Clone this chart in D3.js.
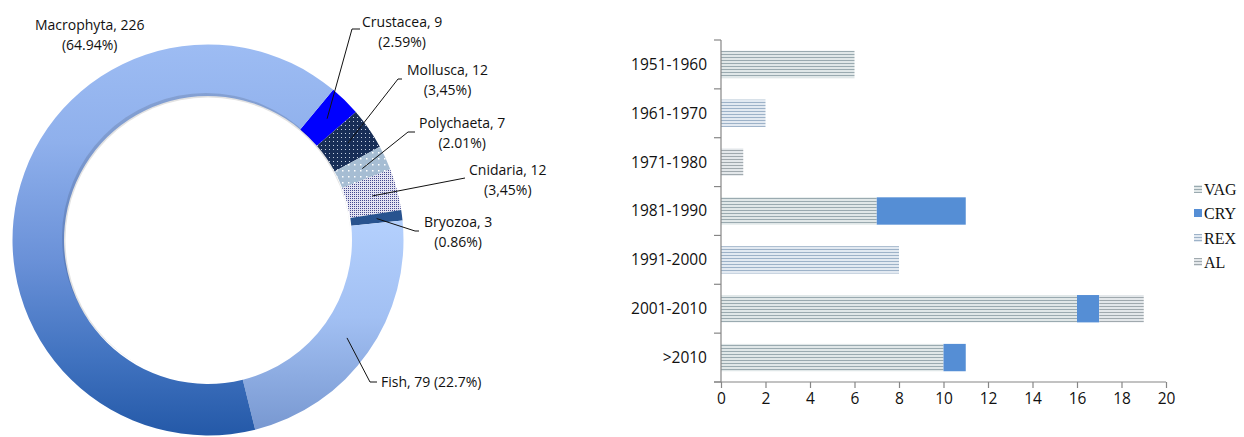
<!DOCTYPE html>
<html><head><meta charset="utf-8">
<script src="https://cdn.jsdelivr.net/npm/d3@7"></script>
<style>
html,body{margin:0;padding:0;background:#fff;}
svg{display:block;}
</style></head>
<body>
<svg id="c" width="1244" height="437"></svg>
<script>
// ---------- DATA ----------
const groups = ["Crustacea","Mollusca","Polychaeta","Cnidaria","Bryozoa","Fish","Macrophyta"];
const groupValues = [9, 12, 7, 12, 3, 79, 226];
const groupPercents = ["(2.59%)","(3,45%)","(2.01%)","(3,45%)","(0.86%)","(22.7%)","(64.94%)"];

const decades = ["1951-1960","1961-1970","1971-1980","1981-1990","1991-2000","2001-2010",">2010"];
const seriesNames = ["VAG","CRY","REX","AL"];
const VAG = [6, 0, 0, 7, 0, 16, 10];
const CRY = [0, 0, 0, 4, 0, 1, 1];
const REX = [0, 2, 0, 0, 8, 0, 0];
const AL  = [0, 0, 1, 0, 0, 2, 0];
const xTicks = [0,2,4,6,8,10,12,14,16,18,20];

// ---------- SETUP ----------
const svg = d3.select("#c");
const defs = svg.append("defs");
const FONT = "'Open Sans', sans-serif";

const cx = 208, cy = 240, rOut = 195.5, rIn = 144;

// gradients (in donut-local coordinates)
function vGrad(id, y1, y2, stops){
  const g = defs.append("linearGradient").attr("id", id)
    .attr("gradientUnits","userSpaceOnUse").attr("x1",0).attr("x2",0).attr("y1",y1).attr("y2",y2);
  stops.forEach(s => g.append("stop").attr("offset", s[0]).attr("stop-color", s[1]));
}
vGrad("gMacro", -rOut, rOut, [[0,"#9dbcf3"],[0.25,"#8fb0ec"],[0.55,"#6a91d8"],[0.8,"#4173c0"],[1,"#2459a8"]]);
vGrad("gFish", -20, rOut, [[0,"#b4d0fd"],[0.45,"#a2c0f3"],[1,"#7696cf"]]);

// patterns
function dotPattern(id, size, bg, dot, r, cx, cy){
  const p = defs.append("pattern").attr("id", id).attr("patternUnits","userSpaceOnUse")
    .attr("width", size).attr("height", size);
  p.append("rect").attr("width", size).attr("height", size).attr("fill", bg);
  p.append("rect").attr("x", cx).attr("y", cy).attr("width", r).attr("height", r).attr("fill", dot);
}
dotPattern("pMoll", 4, "#182e57", "#c9d3e3", 1, 1, 1);
dotPattern("pPoly", 6, "#a6bdd3", "#ffffff", 1.5, 2, 2);
dotPattern("pCnid", 2, "#e4e4f2", "#45498f", 1, 0, 0);

function stripePattern(id, dark, light){
  const p = defs.append("pattern").attr("id", id).attr("patternUnits","userSpaceOnUse")
    .attr("width", 6).attr("height", 3);
  p.append("rect").attr("width", 6).attr("height", 3).attr("fill", light);
  p.append("rect").attr("width", 6).attr("height", 1).attr("fill", dark);
}
stripePattern("sVAG", "#9aaab0", "#e0e7e8");
stripePattern("sREX", "#9db2c8", "#e2e9f1");
stripePattern("sAL",  "#a0a9ae", "#e3e7ea");

const groupFills = ["#0000ff","url(#pMoll)","url(#pPoly)","url(#pCnid)","#28538f","url(#gFish)","url(#gMacro)"];

// ---------- DONUT ----------
const rot = 0.695; // start angle of first slice
const pie = d3.pie().sort(null).startAngle(rot).endAngle(rot + 2*Math.PI);
const arcs = pie(groupValues);
const arc = d3.arc().innerRadius(rIn).outerRadius(rOut);
const gD = svg.append("g").attr("transform", `translate(${cx},${cy})`);

// inner shadow
const sh = defs.append("radialGradient").attr("id","gShadow").attr("gradientUnits","userSpaceOnUse")
  .attr("cx",0).attr("cy",0).attr("r",rIn);
sh.append("stop").attr("offset",0.9).attr("stop-color","#000").attr("stop-opacity",0);
sh.append("stop").attr("offset",1).attr("stop-color","#000").attr("stop-opacity",0.12);

gD.selectAll("path.slice").data(arcs).enter().append("path")
  .attr("class","slice")
  .attr("d", arc)
  .attr("fill", (d,i) => groupFills[i]);

gD.append("circle").attr("r", rIn).attr("cx",-2).attr("cy",-3).attr("fill","url(#gShadow)");
gD.append("circle").attr("r", rIn-1.5).attr("cx",0).attr("cy",0).attr("fill","#fff");

// label layout (annotation positions, not data)
const labelLayout = {
  Crustacea:  {elbow:[352,29],  end:[360,29],  tx:362, ty:22, two:true},
  Mollusca:   {elbow:[398,79],  end:[402,79],  tx:407, ty:70, two:true},
  Polychaeta: {elbow:[408,132], end:[415,132], tx:419, ty:123, two:true},
  Cnidaria:   {elbow:[465,178], end:[465,178], tx:469, ty:170, two:true},
  Bryozoa:    {elbow:[415,231], end:[419,231], tx:424, ty:222, two:true},
  Fish:       {elbow:[370,382], end:[377,382], tx:381, ty:382, two:false},
  Macrophyta: {tx:35, ty:25, two:true, noLine:true}
};
const midR = 170;
const gL = svg.append("g").attr("font-family", FONT).attr("font-size", "14px").attr("fill","#111");
arcs.forEach((a,i) => {
  const name = groups[i], L = labelLayout[name];
  if(!L.noLine){
    const m = (a.startAngle + a.endAngle)/2;
    const p0 = [cx + midR*Math.sin(m), cy - midR*Math.cos(m)];
    gL.append("polyline")
      .attr("points", [p0, L.elbow, L.end].map(p=>p.join(",")).join(" "))
      .attr("fill","none").attr("stroke","#111").attr("stroke-width",1);
  }
  const line1 = name + ", " + groupValues[i];
  if(L.two){
    const t = gL.append("text").attr("x", L.tx).attr("y", L.ty).attr("dy","0.35em").text(line1);
    const w = t.node().getComputedTextLength();
    gL.append("text").attr("x", L.tx + w/2).attr("y", L.ty + 20).attr("dy","0.35em")
      .attr("text-anchor","middle").text(groupPercents[i]);
  } else {
    gL.append("text").attr("x", L.tx).attr("y", L.ty).attr("dy","0.35em").text(line1 + " " + groupPercents[i]);
  }
});

// ---------- BAR CHART ----------
const m = {left:721, top:40, right:1166, bottom:382};
const y = d3.scaleBand().domain(decades).range([m.top, m.bottom]).paddingInner(0.44).paddingOuter(0.22);
const x = d3.scaleLinear().domain([0,20]).range([m.left, m.right]);
const table = decades.map((d,i) => ({decade:d, VAG:VAG[i], CRY:CRY[i], REX:REX[i], AL:AL[i]}));
const stack = d3.stack().keys(seriesNames)(table);
const seriesFill = {VAG:"url(#sVAG)", CRY:"#558ed5", REX:"url(#sREX)", AL:"url(#sAL)"};

const gB = svg.append("g");
gB.selectAll("g.series").data(stack).enter().append("g")
  .attr("fill", s => seriesFill[s.key])
  .selectAll("rect").data(s => s).enter().append("rect")
  .attr("x", d => x(d[0]))
  .attr("y", d => y(d.data.decade))
  .attr("width", d => x(d[1]) - x(d[0]))
  .attr("height", y.bandwidth());

// axes
const axisColor = "#868686";
const yBoundaries = d3.range(decades.length + 1).map(i => m.top + i*(m.bottom-m.top)/decades.length);
gB.append("line").attr("x1", m.left).attr("x2", m.left).attr("y1", m.top).attr("y2", m.bottom)
  .attr("stroke", axisColor).attr("stroke-width",1.2);
gB.selectAll("line.yt").data(yBoundaries).enter().append("line")
  .attr("x1", m.left-7).attr("x2", m.left).attr("y1", d=>d).attr("y2", d=>d)
  .attr("stroke", axisColor).attr("stroke-width",1.2);

const xAxis = d3.axisBottom(x).tickValues(xTicks).tickSize(6).tickSizeOuter(0).tickPadding(5);
const gx = gB.append("g").attr("transform", `translate(0,${m.bottom})`).call(xAxis);
gx.select(".domain").attr("stroke", axisColor).attr("stroke-width",1.2)
  .attr("d", `M${m.left-7},0H${m.right}`);
gx.selectAll(".tick line").attr("stroke", axisColor).attr("stroke-width",1.2);
gx.selectAll(".tick text").attr("font-family", FONT).attr("font-size","15.5px").attr("fill","#111");

gB.selectAll("text.yl").data(decades).enter().append("text")
  .attr("x", m.left - 14).attr("y", d => y(d) + y.bandwidth()/2).attr("dy","0.35em")
  .attr("text-anchor","end").attr("font-family", FONT).attr("font-size","15.5px").attr("fill","#111")
  .text(d => d);

// legend
const legY = [189, 213, 238, 262];
const gLeg = svg.append("g").attr("font-family","'Liberation Serif', 'Times New Roman', serif").attr("font-size","16px").attr("fill","#111");
seriesNames.forEach((s,i) => {
  gLeg.append("rect").attr("x",1194).attr("y",legY[i]-4).attr("width",8).attr("height",8)
    .attr("fill", seriesFill[s]);
  gLeg.append("text").attr("x",1204).attr("y",legY[i]).attr("dy","0.35em").text(s);
});
</script>
</body></html>
